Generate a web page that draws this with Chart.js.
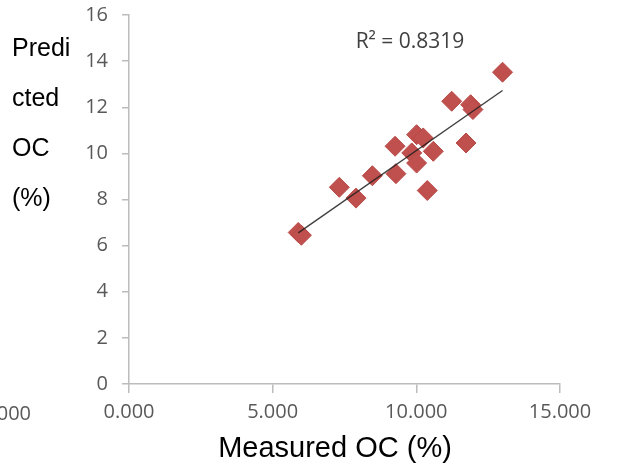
<!DOCTYPE html>
<html>
<head>
<meta charset="utf-8">
<script src="https://cdn.jsdelivr.net/npm/chart.js@4"></script>
<style>
  html, body { margin: 0; padding: 0; background: #fff; }
  #wrap { position: relative; width: 617px; height: 469px; }
</style>
</head>
<body>
<div id="wrap"><canvas id="chart"></canvas></div>
<script>
// measured vs predicted organic carbon (%)
const measuredOC = [5.89, 6.0, 7.32, 7.90, 8.47, 9.26, 9.29, 10.01, 10.24, 9.84, 10.01, 10.59, 10.38, 11.23, 11.73, 11.89, 11.97, 13.00];
const predictedOC = [6.57, 6.45, 8.53, 8.06, 9.03, 10.31, 9.12, 10.81, 10.67, 10.02, 9.58, 10.09, 8.39, 12.26, 10.45, 12.11, 11.90, 13.52];

const xTicks = [0, 5, 10, 15];
const yTicks = [0, 2, 4, 6, 8, 10, 12, 14, 16];
const r2Label = 'R² = 0.8319';
const xTitle = 'Measured OC (%)';
const yTitleLines = ['Predi', 'cted', 'OC', '(%)'];
const leftStrayLabel = '-5.000';

// least squares trend line
const n = measuredOC.length;
const mx = measuredOC.reduce((a, b) => a + b, 0) / n;
const my = predictedOC.reduce((a, b) => a + b, 0) / n;
let sxy = 0, sxx = 0;
for (let i = 0; i < n; i++) {
  sxy += (measuredOC[i] - mx) * (predictedOC[i] - my);
  sxx += (measuredOC[i] - mx) ** 2;
}
const slope = sxy / sxx;
const intercept = my - slope * mx;
const xMin = Math.min(...measuredOC), xMax = Math.max(...measuredOC);
const trend = [xMin, xMax].map(x => ({ x, y: intercept + slope * x }));

const points = measuredOC.map((x, i) => ({ x, y: predictedOC[i] }));

const tickFont = { family: 'Open Sans', size: 20 };
const gray = '#595959';
const axisGray = '#bcbcbc';

const textPlugin = {
  id: 'texts',
  afterDraw(chart) {
    const ctx = chart.ctx;
    ctx.save();
    ctx.fillStyle = '#000';
    ctx.textBaseline = 'middle';
    ctx.font = '25px "Liberation Sans", Arial, sans-serif';
    ctx.textAlign = 'left';
    yTitleLines.forEach((t, i) => ctx.fillText(t, 12, 49 + i * 50));
    ctx.font = '29px "Liberation Sans", Arial, sans-serif';
    ctx.textAlign = 'center';
    ctx.fillText(xTitle, 335, 449);
    ctx.fillStyle = gray;
    ctx.font = '20px "Open Sans", sans-serif';
    ctx.textAlign = 'right';
    ctx.fillText(leftStrayLabel, 31, 414);
    ctx.fillStyle = '#404040';
    ctx.textAlign = 'center';
    ctx.font = '21px "Open Sans", sans-serif';
    ctx.fillText(r2Label, 410, 42);
    ctx.restore();
  }
};

new Chart(document.getElementById('chart'), {
  type: 'scatter',
  data: {
    datasets: [
      {
        type: 'line',
        data: trend,
        borderColor: 'rgba(30,30,30,0.85)',
        borderWidth: 1.4,
        pointRadius: 0,
        fill: false,
        order: 0
      },
      {
        data: points,
        pointStyle: 'rectRot',
        pointRadius: 10,
        backgroundColor: '#c0504d',
        borderColor: '#b84a47',
        borderWidth: 1,
        order: 1
      }
    ]
  },
  options: {
    responsive: true,
    maintainAspectRatio: false,
    animation: false,
    layout: { padding: { left: 0, right: 57, top: 15, bottom: 0 } },
    plugins: { legend: { display: false }, tooltip: { enabled: false } },
    scales: {
      x: {
        type: 'linear',
        min: 0,
        max: 15,
        afterBuildTicks: s => { s.ticks = xTicks.map(v => ({ value: v })); },
        afterFit: s => { s.height = 85; },
        border: { color: axisGray, width: 1.5 },
        grid: { drawOnChartArea: false, drawTicks: true, tickLength: 9, color: axisGray, lineWidth: 1.5 },
        ticks: {
          color: gray,
          font: tickFont,
          padding: 7,
          maxRotation: 0,
          callback: v => v.toFixed(3)
        }
      },
      y: {
        type: 'linear',
        min: 0,
        max: 16,
        afterBuildTicks: s => { s.ticks = yTicks.map(v => ({ value: v })); },
        afterFit: s => { s.width = 129; s.paddingTop = 0; s.paddingBottom = 0; },
        border: { color: axisGray, width: 1.5 },
        grid: { drawOnChartArea: false, drawTicks: true, tickLength: 7, color: axisGray, lineWidth: 1.5 },
        ticks: { color: gray, font: tickFont, padding: 14 }
      }
    }
  },
  plugins: [textPlugin]
});
</script>
</body>
</html>
